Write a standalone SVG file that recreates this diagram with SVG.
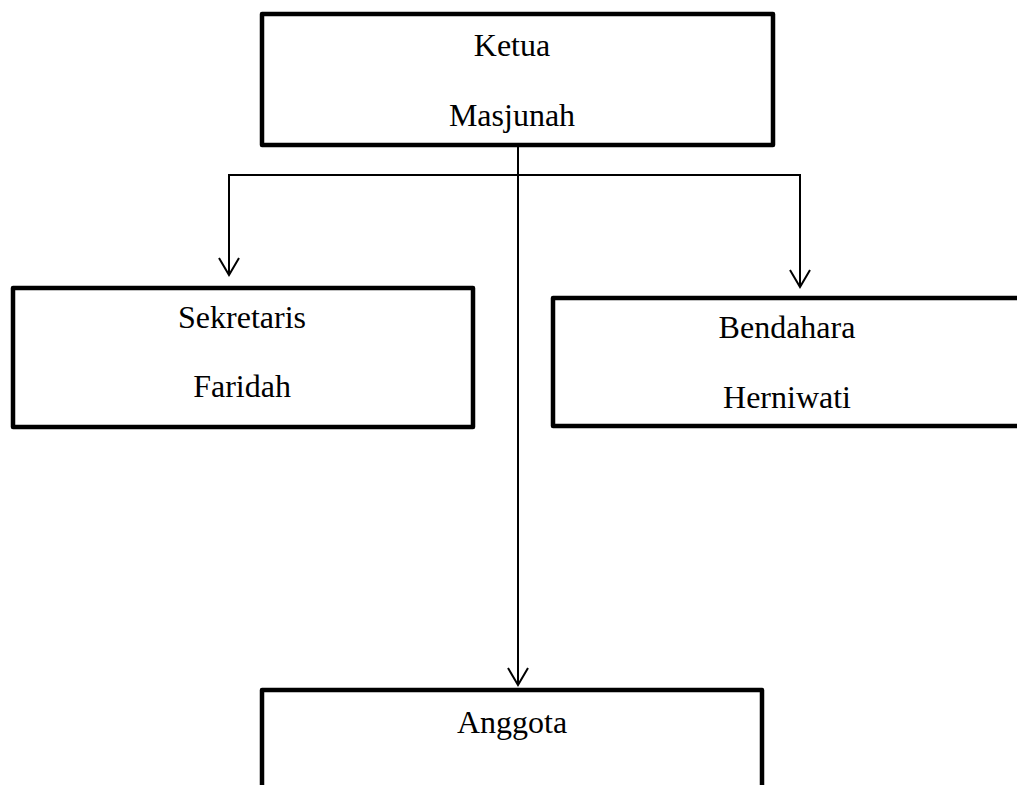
<svg xmlns="http://www.w3.org/2000/svg" width="1017" height="785" viewBox="0 0 1017 785">
<style>
.box{fill:#fff;stroke:#000;stroke-width:4.5;stroke-linejoin:round}
.t{font-family:"Liberation Serif","Times New Roman",serif;font-size:32px;fill:#000;text-anchor:middle}
.c{fill:none;stroke:#000;stroke-width:2}
.ah{fill:none;stroke:#000;stroke-width:2}
</style>
<rect width="1017" height="785" fill="#fff"/>
<g id="connectors">
<line class="c" x1="518" y1="147" x2="518" y2="685"/>
<line class="c" x1="229" y1="175" x2="800" y2="175"/>
<line class="c" x1="229" y1="174" x2="229" y2="275"/>
<line class="c" x1="800" y1="174" x2="800" y2="287"/>
<polyline class="ah" points="219,258 229,275 239,258"/>
<polyline class="ah" points="790,270 800,287 810,270"/>
<polyline class="ah" points="508,668 518,685 528,668"/>
</g>
<g id="ketua">
<rect class="box" x="262" y="14" width="511" height="131"/>
<text class="t" x="512" y="56">Ketua</text>
<text class="t" x="512" y="126">Masjunah</text>
</g>
<g id="sekretaris">
<rect class="box" x="13" y="288" width="460" height="139"/>
<text class="t" x="242" y="328">Sekretaris</text>
<text class="t" x="242" y="397">Faridah</text>
</g>
<g id="bendahara">
<rect class="box" x="553" y="298" width="480" height="128"/>
<text class="t" x="787" y="338">Bendahara</text>
<text class="t" x="787" y="408">Herniwati</text>
</g>
<g id="anggota">
<rect class="box" x="262" y="690" width="500" height="120"/>
<text class="t" x="512" y="733">Anggota</text>
</g>
</svg>
